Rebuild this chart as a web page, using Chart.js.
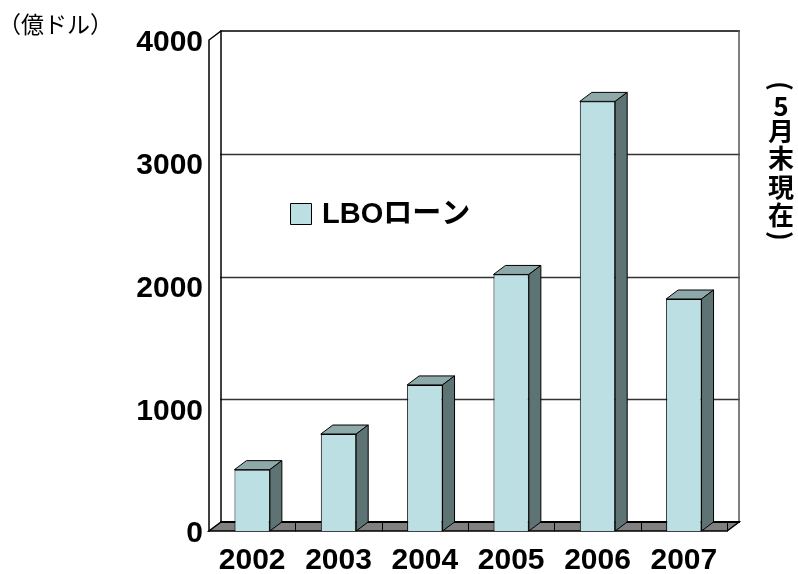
<!DOCTYPE html>
<html>
<head>
<meta charset="utf-8">
<script src="https://cdn.jsdelivr.net/npm/chart.js@4"></script>
<style>
  html, body { margin: 0; padding: 0; background: #fff; }
  canvas { display: block; }
</style>
</head>
<body>
<canvas id="c" width="798" height="574"></canvas>
<script>
// LBO loan volume by year (100 million USD, as of end of May)
const years = ['2002', '2003', '2004', '2005', '2006', '2007'];
const loanValues = [500, 790, 1190, 2090, 3500, 1890];
const yTickValues = [0, 1000, 2000, 3000, 4000];
const seriesLabel = 'LBOローン';
const unitLabel = '（億ドル）';
const noteChars = ['(', '5', '月', '末', '現', '在', ')'];

const FRONT = '#BBDFE3';
const TOP = '#8EA9AA';
const SIDE = '#5E7373';
const FLOOR = '#808080';
const DX = 12, DY = 9;           // depth offset of the 3D box
const NUM_FONT = "'Liberation Sans', Arial, sans-serif";
const JP_FONT = "'Noto Sans CJK JP', sans-serif";

function poly(ctx, pts, fill, stroke, lw) {
  ctx.beginPath();
  ctx.moveTo(pts[0][0], pts[0][1]);
  for (let i = 1; i < pts.length; i++) ctx.lineTo(pts[i][0], pts[i][1]);
  ctx.closePath();
  if (fill) { ctx.fillStyle = fill; ctx.fill(); }
  if (stroke) { ctx.strokeStyle = stroke; ctx.lineWidth = lw || 1; ctx.stroke(); }
}

const box3d = {
  id: 'box3d',
  beforeDraw(chart) {
    const ctx = chart.ctx;
    ctx.save();
    ctx.fillStyle = '#fff';
    ctx.fillRect(0, 0, chart.width, chart.height);
    ctx.restore();
  },
  beforeDatasetsDraw(chart) {
    const ctx = chart.ctx;
    const { left, right, top, bottom } = chart.chartArea;
    const ys = chart.scales.y;
    ctx.save();
    ctx.lineCap = 'square';
    // back-wall gridlines
    yTickValues.forEach(v => {
      if (v === 0 || v === ys.max) return;
      const py = Math.round(ys.getPixelForValue(v) - DY) + 0.5;
      ctx.beginPath();
      ctx.moveTo(left + DX, py);
      ctx.lineTo(right + DX, py);
      ctx.strokeStyle = '#333';
      ctx.lineWidth = 1.5;
      ctx.stroke();
    });
    // walls outline
    ctx.strokeStyle = '#000';
    ctx.lineWidth = 1.5;
    ctx.beginPath();
    ctx.moveTo(left, bottom); ctx.lineTo(left, top);
    ctx.lineTo(left + DX, top - DY);
    ctx.lineTo(right + DX, top - DY);
    ctx.stroke();
    ctx.beginPath();
    ctx.moveTo(left + DX, top - DY); ctx.lineTo(left + DX, bottom - DY);
    ctx.stroke();
    ctx.beginPath();
    ctx.strokeStyle = '#555';
    ctx.moveTo(right + DX, top - DY); ctx.lineTo(right + DX, bottom - DY);
    ctx.stroke();
    // floor
    poly(ctx, [[left, bottom], [right, bottom], [right + DX, bottom - DY], [left + DX, bottom - DY]], FLOOR, '#000', 1.5);
    ctx.beginPath();
    ctx.lineWidth = 2;
    ctx.strokeStyle = '#000';
    ctx.moveTo(left + DX, bottom - DY); ctx.lineTo(right + DX, bottom - DY);
    ctx.stroke();
    // category dividers on the floor
    const n = chart.data.labels.length;
    const catW = (right - left) / n;
    ctx.lineWidth = 1;
    for (let i = 1; i <= n; i++) {
      const px = Math.round(left + i * catW) + 0.5;
      ctx.beginPath();
      ctx.moveTo(px, bottom - DY); ctx.lineTo(px, bottom);
      ctx.stroke();
    }
    ctx.restore();
  },
  afterDatasetsDraw(chart) {
    const ctx = chart.ctx;
    const meta = chart.getDatasetMeta(0);
    ctx.save();
    ctx.lineJoin = 'round';
    meta.data.forEach(bar => {
      const { x, y, width, base } = bar.getProps(['x', 'y', 'width', 'base'], true);
      const l = x - width / 2, r = x + width / 2;
      poly(ctx, [[l, y], [r, y], [r + DX, y - DY], [l + DX, y - DY]], TOP, '#000', 1);
      poly(ctx, [[r, y], [r, base], [r + DX, base - DY], [r + DX, y - DY]], SIDE, '#000', 1);
    });
    ctx.restore();
  },
  afterDraw(chart) {
    const ctx = chart.ctx;
    ctx.save();
    // legend
    poly(ctx, [[290.5, 203.5], [311.5, 203.5], [311.5, 224.5], [290.5, 224.5]], FRONT, '#000', 1);
    ctx.fillStyle = '#000';
    ctx.font = "bold 29px 'Liberation Sans', 'Noto Sans CJK JP', sans-serif";
    ctx.textBaseline = 'middle';
    ctx.textAlign = 'left';
    ctx.fillText(chart.data.datasets[0].label, 322, 215);
    // unit label
    ctx.font = "23px " + JP_FONT;
    ctx.fillText(unitLabel, -2, 24);
    // vertical note on the right
    ctx.font = "bold 26px " + JP_FONT;
    ctx.textAlign = 'center';
    const cx = 781;
    const centers = [86, 106, 131, 158, 187, 215, 236];
    noteChars.forEach((ch, i) => {
      if (ch === '(' || ch === ')') {
        ctx.save();
        ctx.translate(cx, centers[i]);
        ctx.rotate(Math.PI / 2);
        ctx.fillText(ch, 0, 0);
        ctx.restore();
      } else {
        ctx.fillText(ch, cx, centers[i]);
      }
    });
    ctx.restore();
  }
};

new Chart(document.getElementById('c'), {
  type: 'bar',
  data: {
    labels: years,
    datasets: [{
      label: seriesLabel,
      data: loanValues,
      backgroundColor: FRONT,
      borderColor: '#000',
      borderWidth: 1,
      barPercentage: 0.41,
      categoryPercentage: 1
    }]
  },
  options: {
    responsive: false,
    animation: false,
    devicePixelRatio: 1,
    layout: { padding: { top: 40, right: 71, left: 0, bottom: 0 } },
    plugins: { legend: { display: false }, tooltip: { enabled: false } },
    scales: {
      x: {
        grid: { display: false, drawTicks: false },
        border: { display: false },
        ticks: { color: '#000', font: { family: NUM_FONT, size: 30, weight: 'bold' }, padding: 12, maxRotation: 0, autoSkip: false },
        afterFit(s) { s.height = 43; }
      },
      y: {
        min: 0, max: 4000,
        grid: { display: false, drawTicks: false },
        border: { display: false },
        afterBuildTicks(s) { s.ticks = yTickValues.map(v => ({ value: v })); },
        ticks: {
          color: '#000', font: { family: NUM_FONT, size: 30, weight: 'bold' }, padding: 6,
          labelOffset: 3,
          callback: v => String(v)
        },
        afterFit(s) { s.width = 209; }
      }
    }
  },
  plugins: [box3d]
});
</script>
</body>
</html>
